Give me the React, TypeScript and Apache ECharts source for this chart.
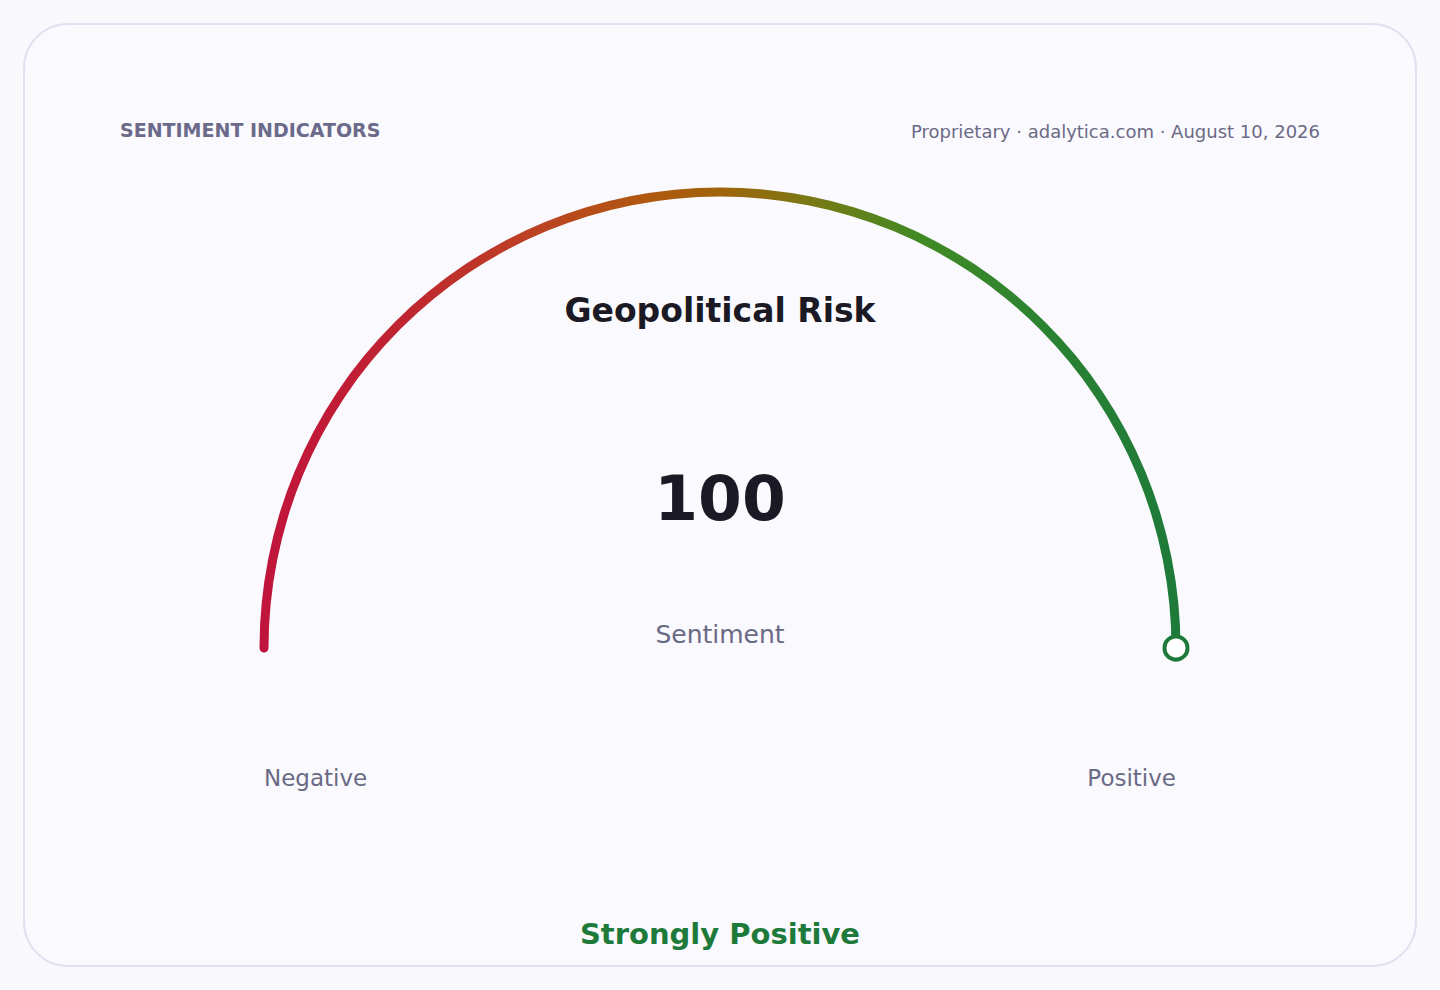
import { useRef, useEffect } from 'react'
import * as echarts from 'echarts'

const eyebrow = 'SENTIMENT INDICATORS'
const source = 'Proprietary · adalytica.com · August 10, 2026'
const indicatorName = 'Geopolitical Risk'
const valueLabel = 'Sentiment'
const scaleLabels = ['Negative', 'Positive']
const scaleRange = [0, 100]
const sentimentValue = 100
const verdict = 'Strongly Positive'

const gradientStops = [
  { offset: 0, color: '#c0143c' },
  { offset: 0.14, color: '#c02232' },
  { offset: 0.3, color: '#bc4222' },
  { offset: 0.42, color: '#b05810' },
  { offset: 0.5, color: '#a0630a' },
  { offset: 0.6, color: '#787914' },
  { offset: 0.72, color: '#408a24' },
  { offset: 0.86, color: '#2a8232' },
  { offset: 1, color: '#1e7a3a' },
]

const FONT = '"DejaVu Sans", sans-serif'
const CX = 720
const CY = 648
const R = 456
const ARC_W = 9

export default function App() {
  const chartRef = useRef<HTMLDivElement>(null)

  useEffect(() => {
    if (!chartRef.current) return
    const chart = echarts.init(chartRef.current, undefined, { renderer: 'svg' })

    chart.setOption({
      animation: false,
      backgroundColor: '#f9f9fd',
      polar: { center: [CX, CY], radius: R },
      angleAxis: {
        type: 'value', startAngle: 180, clockwise: true,
        min: scaleRange[0], max: scaleRange[1] * 2,
        show: false,
      },
      radiusAxis: { type: 'value', min: 0, max: 1, show: false },
      graphic: [
        {
          type: 'rect', z: -10, silent: true,
          shape: { x: 24, y: 24, width: 1392, height: 942, r: 44 },
          style: { fill: '#f9f9fe', stroke: '#e1e0f0', lineWidth: 2 },
        },
        {
          type: 'text', x: 120, y: 130,
          style: { text: eyebrow, fill: '#6b6a8b', font: `bold 19px ${FONT}`, textVerticalAlign: 'middle' },
        },
        {
          type: 'text', x: 1320, y: 131,
          style: { text: source, fill: '#6b6a85', font: `18px ${FONT}`, textAlign: 'right', textVerticalAlign: 'middle' },
        },
        {
          type: 'text', x: CX, y: 310,
          style: { text: indicatorName, fill: '#1b1a24', font: `bold 33px ${FONT}`, textAlign: 'center', textVerticalAlign: 'middle' },
        },
        {
          type: 'text', x: CX, y: 934,
          style: { text: verdict, fill: '#1e7a3a', font: `bold 29px ${FONT}`, textAlign: 'center', textVerticalAlign: 'middle' },
        },
        {
          type: 'text', x: CX - R, y: 778,
          style: { text: scaleLabels[0], fill: '#6b6a85', font: `23px ${FONT}`, textAlign: 'left', textVerticalAlign: 'middle' },
        },
        {
          type: 'text', x: CX + R, y: 778,
          style: { text: scaleLabels[1], fill: '#6b6a85', font: `23px ${FONT}`, textAlign: 'right', textVerticalAlign: 'middle' },
        },
      ],
      series: [
        {
          type: 'gauge',
          center: [CX, CY],
          radius: R + ARC_W / 2,
          startAngle: 180,
          endAngle: 0,
          min: scaleRange[0],
          max: scaleRange[1],
          axisLine: { show: false },
          axisTick: { show: false },
          splitLine: { show: false },
          axisLabel: { show: false },
          pointer: { show: false },
          anchor: { show: false },
          progress: {
            show: true, width: ARC_W, roundCap: true,
            itemStyle: { color: new echarts.graphic.LinearGradient(0, 0, 1, 0, gradientStops) },
          },
          title: {
            offsetCenter: [0, -14],
            color: '#6b6a85', fontFamily: 'DejaVu Sans', fontSize: 25,
          },
          detail: {
            offsetCenter: [0, -150],
            formatter: '{value}',
            color: '#1b1a24', fontFamily: 'DejaVu Sans', fontWeight: 'bold', fontSize: 63,
          },
          data: [{ value: sentimentValue, name: valueLabel }],
        },
        {
          type: 'scatter',
          coordinateSystem: 'polar',
          symbol: 'circle',
          symbolSize: 23,
          itemStyle: { color: '#ffffff', borderColor: '#1e7a3a', borderWidth: 4, opacity: 1 },
          emphasis: { disabled: true },
          data: [[1, sentimentValue]],
          z: 5,
        },
      ],
    })

    return () => chart.dispose()
  }, [])

  return (
    <div style={{ position: 'fixed', left: 0, top: 0, width: 1440, height: 990 }}>
      <div ref={chartRef} style={{ width: 1440, height: 990 }} />
    </div>
  )
}
